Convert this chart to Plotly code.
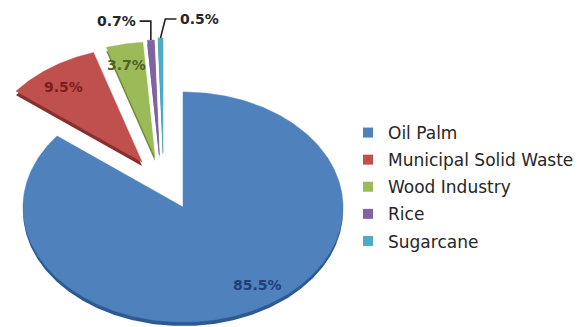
import numpy as np
import plotly.graph_objects as go

# ---------------- data ----------------
categories = ["Oil Palm", "Municipal Solid Waste", "Wood Industry", "Rice", "Sugarcane"]
shares = [85.5, 9.5, 3.7, 0.7, 0.5]
value_labels = ["85.5%", "9.5%", "3.7%", "0.7%", "0.5%"]

# ---------------- style ----------------
colors = ["#4F81BD", "#C0504D", "#9BBB59", "#8064A2", "#4BACC6"]
side_colors = ["#2C5A91", "#85302D", "#6B8838", "#56437A", "#2F8199"]
label_colors = ["#1F3F77", "#7A1F1D", "#4F6228", "#262626", "#262626"]
pull = [0.0, 0.467, 0.469, 0.476, 0.486]        # explosion (unit radius)
pull_turn = [0.0, -1.5, 11.0, 15.0, 14.0]        # explosion direction tweak (deg)
label_r = 0.82
label_turn = [8.6, 2.0, 1.7, 0.0, 0.0]
outside = [False, False, False, True, True]
leader_side = [0, 0, 0, -1, 1]
leader_rise = 0.165
leader_run = 0.07

W, H = 579, 327
CX, CY = 183, 207      # pie centre (px)
RX, RY = 160, 115      # ellipse radii (px) - flattened 3D look
DEPTH = 4 / RY         # thickness of the pie

total = sum(shares)
start = 90.0

fig = go.Figure()
tops, sides, annos, leaders = [], [], [], []

for i, (cat, v) in enumerate(zip(categories, shares)):
    sweep = v / total * 360.0
    a0, a1 = start, start - sweep
    start = a1
    mid = (a0 + a1) / 2
    d = np.radians(mid + pull_turn[i])
    cx, cy = pull[i] * np.cos(d), pull[i] * np.sin(d)
    ang = np.radians(np.linspace(a0, a1, max(int(sweep * 1.5) + 2, 4)))
    xs = np.concatenate([[cx], cx + np.cos(ang), [cx]])
    ys = np.concatenate([[cy], cy + np.sin(ang), [cy]])
    sides.append(go.Scatter(x=xs, y=ys - DEPTH, mode="lines", fill="toself",
                            fillcolor=side_colors[i], line=dict(width=0, color=side_colors[i]),
                            hoverinfo="skip", showlegend=False, legendgroup=cat))
    tops.append(go.Scatter(x=xs, y=ys, mode="lines", fill="toself",
                           fillcolor=colors[i], line=dict(width=0.5, color=colors[i]),
                           name=cat, text=value_labels[i], hoveron="fills",
                           hoverinfo="text+name", showlegend=False, legendgroup=cat))
    if not outside[i]:
        la = np.radians(mid + label_turn[i])
        annos.append(dict(x=cx + label_r * np.cos(la), y=cy + label_r * np.sin(la),
                          text="<b>" + value_labels[i] + "</b>", showarrow=False,
                          xref="x", yref="y",
                          font=dict(family="DejaVu Sans", size=14, color=label_colors[i])))
    else:
        m = np.radians(mid)
        tx, ty = cx + np.cos(m), cy + np.sin(m)
        s = leader_side[i]
        ly = ty + leader_rise
        if s < 0:
            lx = [tx, tx, tx - leader_run]
        else:
            lx = [tx, tx + 0.03, tx + leader_run + 0.03]
        leaders.append(go.Scatter(x=lx, y=[ty, ly, ly], mode="lines",
                                  line=dict(color="#222222", width=1.6),
                                  hoverinfo="skip", showlegend=False))
        annos.append(dict(x=lx[-1] + s * 0.012, y=ly, text="<b>" + value_labels[i] + "</b>",
                          showarrow=False, xref="x", yref="y",
                          xanchor="right" if s < 0 else "left",
                          font=dict(family="DejaVu Sans", size=14, color=label_colors[i])))

for t in sides + tops + leaders:
    fig.add_trace(t)

# legend entries
for i, cat in enumerate(categories):
    fig.add_trace(go.Scatter(x=[None], y=[None], mode="markers", name=cat,
                             legendgroup=cat,
                             marker=dict(symbol="square", size=10, color=colors[i])))

fig.update_layout(
    width=W, height=H,
    margin=dict(l=0, r=0, t=0, b=0),
    paper_bgcolor="white", plot_bgcolor="white",
    xaxis=dict(range=[-CX / RX, (W - CX) / RX], visible=False, fixedrange=True),
    yaxis=dict(range=[-(H - CY) / RY, CY / RY], visible=False, fixedrange=True),
    annotations=annos,
    legend=dict(x=348 / W, y=1 - 115 / H, xanchor="left", yanchor="top",
                font=dict(family="DejaVu Sans", size=17, color="#262626"),
                tracegroupgap=2, bgcolor="rgba(0,0,0,0)"),
    showlegend=True,
)

fig.write_html("out.html")
